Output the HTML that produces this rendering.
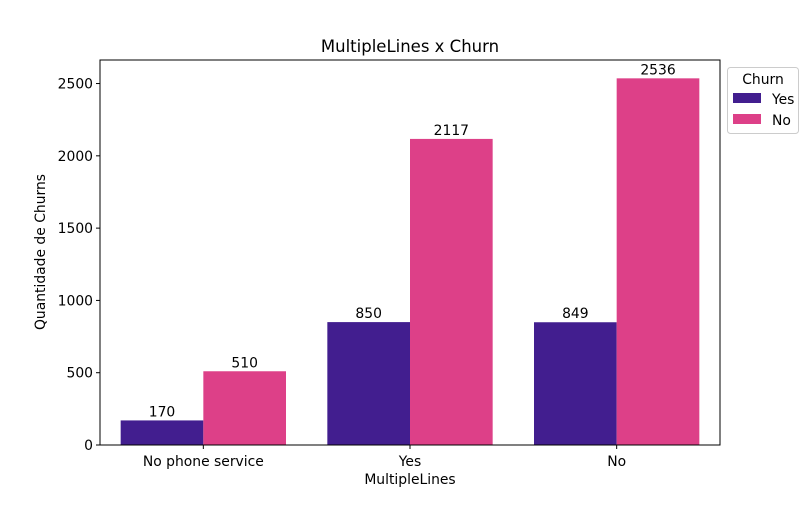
<!DOCTYPE html>
<html><head><meta charset="utf-8"><style>
body{margin:0;background:#fff;}
svg{font-family:"DejaVu Sans","Liberation Sans",sans-serif;}
</style></head><body>
<svg id="c" width="800" height="500" xmlns="http://www.w3.org/2000/svg">
<rect width="800" height="500" fill="#fff"/>
<text x="410" y="52" font-size="16.5" text-anchor="middle">MultipleLines x Churn</text>
<g id="plot"></g>
<text x="410" y="484" font-size="13.9" text-anchor="middle">MultipleLines</text>
<text transform="translate(45,252) rotate(-90)" font-size="13.9" text-anchor="middle">Quantidade de Churns</text>
<g>
<rect x="727.5" y="67.5" width="71" height="66" rx="3" fill="#fff" stroke="#ccc"/>
<text x="763" y="84" font-size="13.9" text-anchor="middle">Churn</text>
<rect x="733" y="93" width="28" height="10" fill="#421e8f"/>
<text x="772" y="104" font-size="13.9">Yes</text>
<rect x="733" y="114" width="28" height="10" fill="#dd4088"/>
<text x="772" y="125" font-size="13.9">No</text>
</g>
</svg>
<script>
const categories = ["No phone service","Yes","No"];
const yesValues = [170,850,849];
const noValues = [510,2117,2536];
const yTicks = [0,500,1000,1500,2000,2500];

const L=100,R=720,T=60,B=445;
const yMax=Math.max(...yesValues,...noValues)*1.05;
const y=v=>B-(v/yMax)*(B-T);
const x=i=>L+(i+0.5)*(R-L)/categories.length;
const unit=(R-L)/categories.length;
const g=document.getElementById('plot');
const NS="http://www.w3.org/2000/svg";
function mk(t,a){const e=document.createElementNS(NS,t);for(const k in a)e.setAttribute(k,a[k]);g.appendChild(e);return e;}
const series=[[yesValues,"#421e8f",-0.4,"yes"],[noValues,"#dd4088",0,"no"]];
categories.forEach((c,i)=>{
  series.forEach(([vals,col,off,nm])=>{
    const v=vals[i];
    const bx=x(i)+off*unit;
    const r=mk('rect',{x:bx,y:y(v),width:0.4*unit,height:B-y(v),fill:col});
    
    
    const t=mk('text',{x:bx+0.2*unit,y:y(v)-4,'font-size':13.9,'text-anchor':'middle'});
    t.textContent=v;
    
    
  });
  mk('line',{x1:x(i),x2:x(i),y1:B,y2:B+4,stroke:'#000'});
  const tl=mk('text',{x:x(i),y:B+21,'font-size':13.9,'text-anchor':'middle'});
  tl.textContent=c;
  
  
});
yTicks.forEach(v=>{
  mk('line',{x1:L-4,x2:L,y1:y(v),y2:y(v),stroke:'#000'});
  const t=mk('text',{x:L-7,y:y(v)+5,'font-size':13.9,'text-anchor':'end'});
  t.textContent=v;
  
  
});
const f=mk('rect',{x:L,y:T,width:R-L,height:B-T,fill:'none',stroke:'#000','stroke-width':1});


</script>
</body></html>
